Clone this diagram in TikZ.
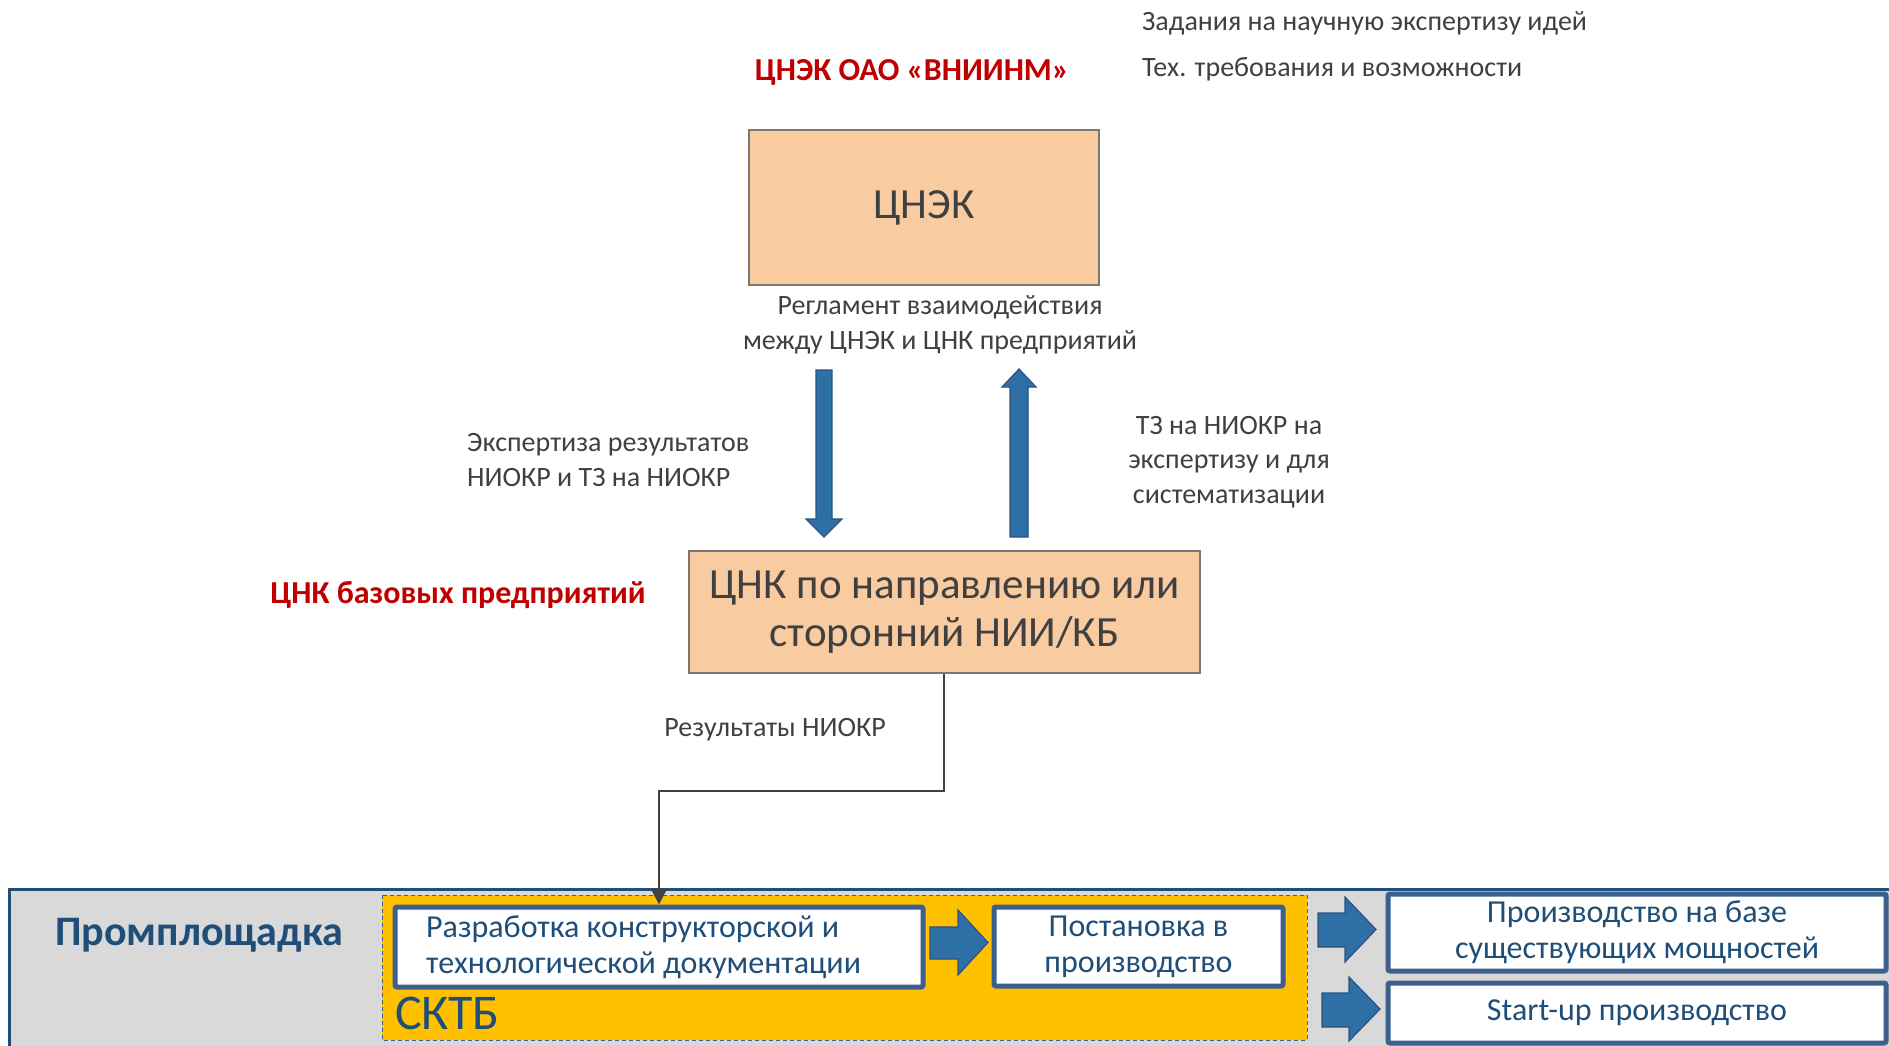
\documentclass[tikz,border=0pt]{standalone}
\usepackage{fontspec}
\setmainfont{Carlito}
\usetikzlibrary{arrows.meta}
\definecolor{txtgray}{RGB}{64,64,64}
\definecolor{redt}{RGB}{192,0,0}
\definecolor{peach}{RGB}{248,203,160}
\definecolor{peachline}{RGB}{128,118,108}
\definecolor{arrowblue}{RGB}{46,112,166}
\definecolor{arrowline}{RGB}{44,82,130}
\definecolor{boxblue}{RGB}{60,96,142}
\definecolor{darkblue}{RGB}{31,78,121}
\definecolor{panelgray}{RGB}{217,217,217}
\definecolor{sktb}{RGB}{255,192,0}
\tikzset{
  lbl/.style={text=txtgray, font=\fontsize{28}{34.5}\selectfont, inner sep=0pt},
  redlbl/.style={text=redt, font=\fontsize{32}{38}\selectfont\bfseries, inner sep=0pt},
  peachbox/.style={fill=peach, draw=peachline, line width=1.5pt, text=txtgray,
    font=\fontsize{43}{48}\selectfont, align=center},
  bluebox/.style={fill=white, draw=boxblue, line width=5pt, rounded corners=2pt,
    text=darkblue, font=\fontsize{32}{36}\selectfont},
  blockarrow/.style={fill=arrowblue, draw=arrowline, line width=1.2pt, line join=miter},
  conn/.style={draw=txtgray, line width=2.5pt, -{Triangle[length=16pt,width=16pt]}},
}
\begin{document}
\begin{tikzpicture}[x=1pt,y=-1pt]
\useasboundingbox (0,0) rectangle (1889,1046);
\clip (0,0) rectangle (1889,1046);
\fill[white] (0,0) rectangle (1889,1046);

% top texts
\node[redlbl] (title) at (912,72) {ЦНЭК ОАО «ВНИИНМ»};
\node[lbl, anchor=west] (t1) at (1142,23) {Задания на научную экспертизу идей};
\node[lbl, anchor=west] (t2) at (1142,69) {Тех. требования и возможности};

% CNEK box
\node[peachbox, minimum width=350pt, minimum height=155pt] (cnek) at (924,207.5) {ЦНЭК};
\node[lbl, align=center] (regl) at (940,325) {Регламент взаимодействия\\между ЦНЭК и ЦНК предприятий};

% vertical block arrows
\filldraw[blockarrow] (816,370) -- (832,370) -- (832,519) -- (842,519) -- (824,537) -- (806,519) -- (816,519) -- cycle;
\filldraw[blockarrow] (1010,537) -- (1028,537) -- (1028,387) -- (1036,387) -- (1019,369) -- (1002,387) -- (1010,387) -- cycle;

\node[lbl, align=left, anchor=west] (exp) at (467,460) {Экспертиза результатов\\НИОКР и ТЗ на НИОКР};
\node[lbl, align=center] (tz) at (1229,462) {ТЗ на НИОКР на\\экспертизу и для\\систематизации};

% CNK box
\node[peachbox, minimum width=511pt, minimum height=122pt] (cnk) at (944.5,612) {ЦНК по направлению или\\сторонний НИИ/КБ};
\node[redlbl] (cnkred) at (458,595) {ЦНК базовых предприятий};

\node[lbl] (res) at (775,730) {Результаты НИОКР};

% bottom panel
\draw[fill=panelgray, draw=darkblue, line width=3pt] (9,889) rectangle (1900,1060);
\node[text=darkblue, font=\fontsize{42}{48}\selectfont\bfseries, inner sep=0pt] (prom) at (199,935) {Промплощадка};

\draw[fill=sktb, draw=boxblue, line width=1pt, dash pattern=on 4pt off 3pt] (382,895) rectangle (1307,1040);
\node[text=darkblue, font=\fontsize{50}{54}\selectfont, inner sep=0pt, anchor=south west] (sktbl) at (395,1030) {СКТБ};

\node[bluebox, minimum width=528pt, minimum height=80pt] (b1) at (659,947) {};
\node[text=darkblue, font=\fontsize{32}{36}\selectfont, align=left, anchor=west, inner sep=0pt] (b1t) at (426,947) {Разработка конструкторской и\\технологической документации};
\node[bluebox, minimum width=289pt, minimum height=79pt, align=center] (b2) at (994+144.5,946.5) {Постановка в\\производство};
\node[bluebox, minimum width=498pt, minimum height=77pt, align=center] (b3) at (1388+249,932.5) {Производство на базе\\существующих мощностей};
\node[bluebox, minimum width=498pt, minimum height=60pt, align=center] (b4) at (1388+249,1013) {Start-up производство};

% horizontal block arrows
\filldraw[blockarrow] (930,927) -- (958,927) -- (958,910) -- (988,942.5) -- (958,975) -- (958,959) -- (930,959) -- cycle;
\filldraw[blockarrow] (1318,913) -- (1345,913) -- (1345,897) -- (1376,929.5) -- (1345,962) -- (1345,947) -- (1318,947) -- cycle;
\filldraw[blockarrow] (1322,993) -- (1349,993) -- (1349,977) -- (1380,1009) -- (1349,1041) -- (1349,1027) -- (1322,1027) -- cycle;

% connector
\draw[conn] (cnk.south -| 944,0) -- (944,791) -- (659,791) -- (b1.north);
\end{tikzpicture}
\end{document}
